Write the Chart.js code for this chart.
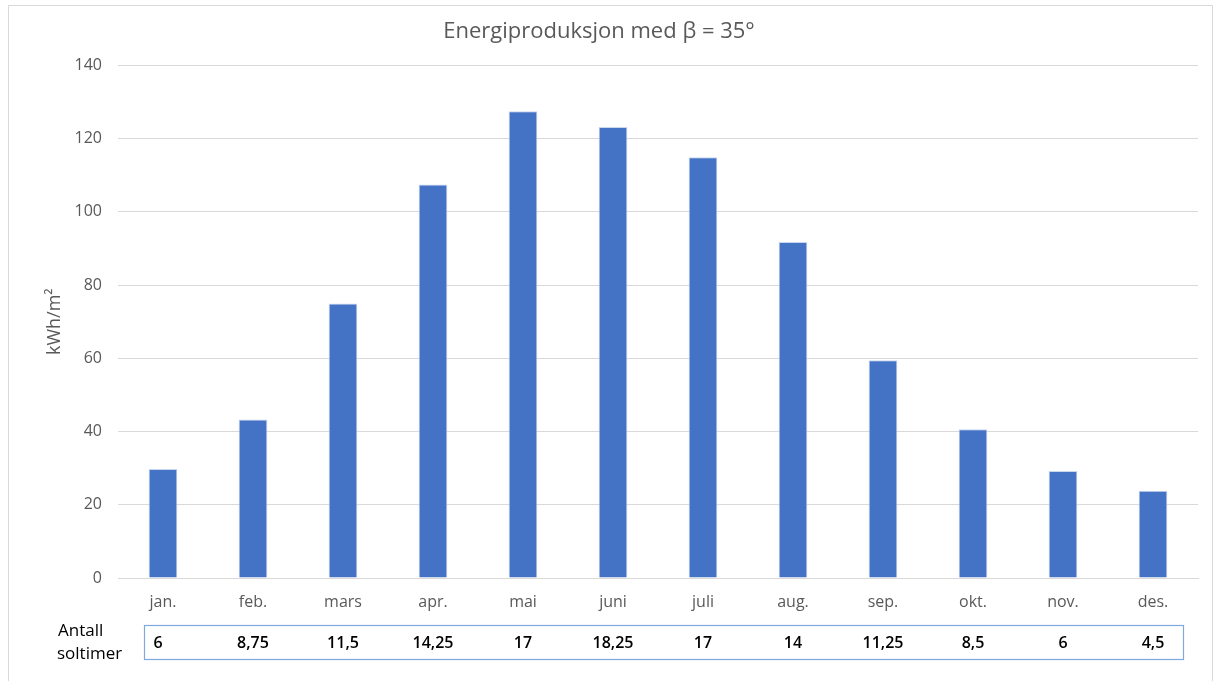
<!DOCTYPE html>
<html>
<head>
<meta charset="utf-8">
<script src="https://cdn.jsdelivr.net/npm/chart.js@4/dist/chart.umd.min.js"></script>
<style>
  html, body { margin: 0; padding: 0; background: #fff; }
  #wrap { width: 1213px; height: 681px; }
</style>
</head>
<body>
<div id="wrap"><canvas id="energyChart" width="1213" height="681"></canvas></div>
<script>
const months = ['jan.', 'feb.', 'mars', 'apr.', 'mai', 'juni', 'juli', 'aug.', 'sep.', 'okt.', 'nov.', 'des.'];
const energy = [29.8, 43.3, 75, 107.5, 127.5, 123.2, 114.9, 91.8, 59.5, 40.6, 29.2, 23.8];
const sunHours = ['6', '8,75', '11,5', '14,25', '17', '18,25', '17', '14', '11,25', '8,5', '6', '4,5'];
const tableLabel = ['Antall', 'soltimer'];

const FONT = '"Open Sans", "Liberation Sans", sans-serif';
const GREY = '#595959';

// ramme rundt diagrammet
const frame = {
    id: 'frame',
    beforeDraw(chart) {
        const c = chart.ctx;
        c.save();
        c.strokeStyle = '#d9d9d9';
        c.lineWidth = 1;
        c.strokeRect(8.5, 5.5, chart.width - 9, chart.height - 4);
        c.restore();
    }
};

// datatabell under x-aksen
const dataTable = {
    id: 'dataTable',
    afterDraw(chart) {
        const c = chart.ctx;
        const x = chart.scales.x;
        const top = chart.chartArea.bottom + 47;
        const h = 34;
        c.save();
        c.strokeStyle = '#7ea9dc';
        c.lineWidth = 1.2;
        c.strokeRect(x.left + 26.5, top + 0.5, x.right - x.left - 41, h);
        c.fillStyle = '#000';
        c.font = '600 16px ' + FONT;
        c.textAlign = 'center';
        c.textBaseline = 'middle';
        sunHours.forEach((v, i) => {
            let px = x.getPixelForValue(i);
            if (i === 0) px = x.left + 40;
            c.fillText(v, px, top + h / 2 + 1);
        });
        c.font = '17px ' + FONT;
        c.textAlign = 'left';
        c.fillText(tableLabel[0], 58, top + 6);
        c.fillText(tableLabel[1], 57, top + 29);
        c.restore();
    }
};

new Chart(document.getElementById('energyChart'), {
    type: 'bar',
    data: {
        labels: months,
        datasets: [{
            label: 'kWh/m²',
            data: energy,
            backgroundColor: '#4472c4',
            borderColor: '#c9d6ef',
            borderWidth: 1,
            barPercentage: 0.32,
            categoryPercentage: 1
        }]
    },
    options: {
        responsive: false,
        animation: false,
        layout: { padding: { top: 0, right: 15, bottom: 60, left: 0 } },
        plugins: {
            legend: { display: false },
            tooltip: { enabled: false },
            title: {
                display: true,
                text: 'Energiproduksjon med β = 35°',
                color: GREY,
                font: { family: FONT, size: 22, weight: 'normal' },
                padding: { top: 19, bottom: 20 }
            }
        },
        scales: {
            x: {
                grid: { display: false, drawTicks: false },
                border: { color: '#d9d9d9' },
                ticks: { color: GREY, font: { family: FONT, size: 16 }, padding: 15 },
                afterFit(s) { s.height = 43; }
            },
            y: {
                min: 0,
                max: 140,
                ticks: { stepSize: 20, color: GREY, font: { family: FONT, size: 16 }, padding: 16 },
                grid: { color: '#d9d9d9', drawTicks: false },
                border: { display: false },
                title: {
                    display: true,
                    text: 'kWh/m²',
                    color: GREY,
                    font: { family: FONT, size: 18 },
                    padding: { top: 44 }
                },
                afterFit(s) { s.width = 118; }
            }
        }
    },
    plugins: [frame, dataTable]
});
</script>
</body>
</html>
